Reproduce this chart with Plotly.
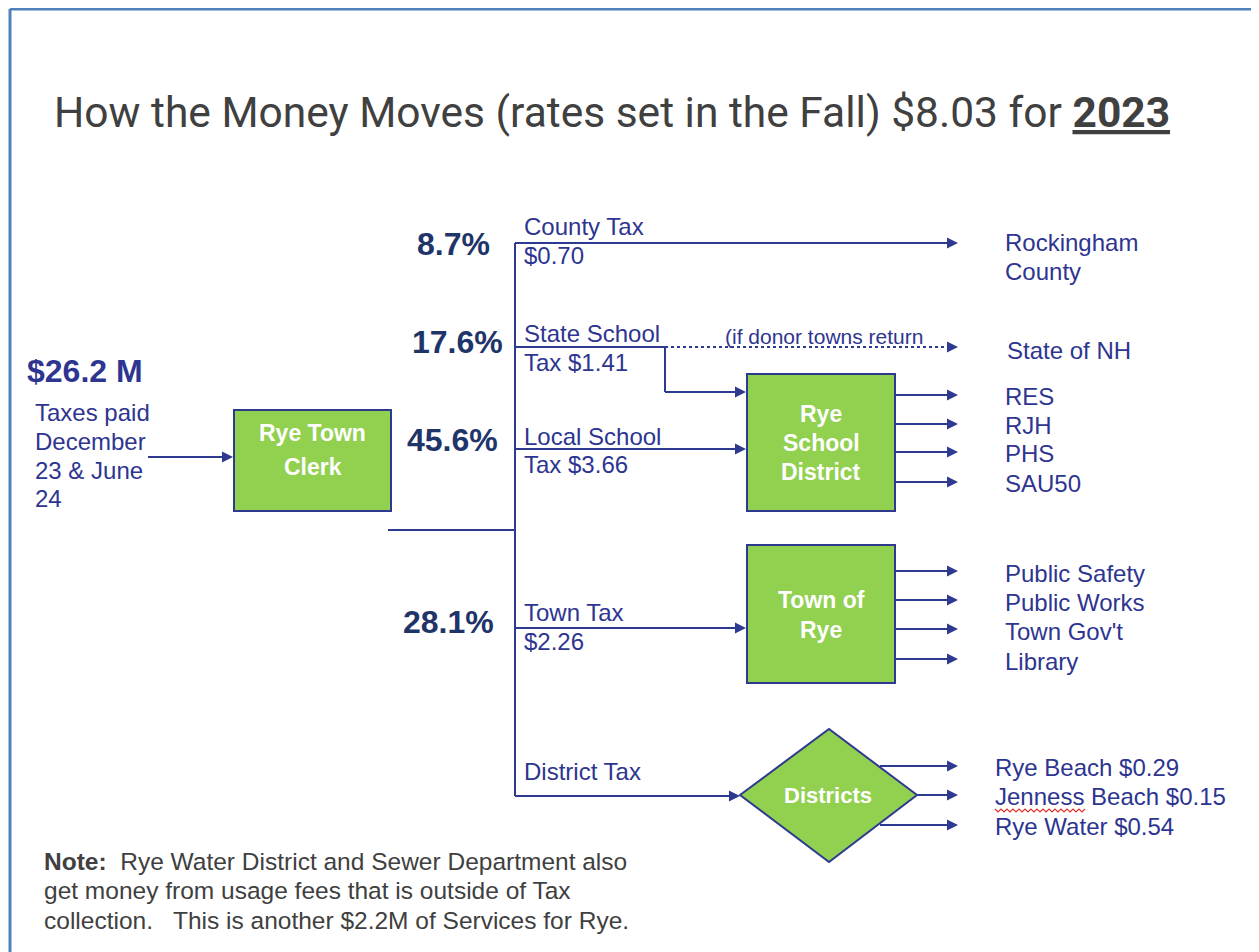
import plotly.graph_objects as go

# ---------------- data ----------------
title_main = "How the Money Moves (rates set in the Fall) $8.03 for "
title_year = "2023"
total_collected = "$26.2 M"
paid_note = ["Taxes paid", "December", "23 & June", "24"]

branch_names = ["County Tax", "State School", "Local School", "Town Tax", "District Tax"]
branch_rates = ["$0.70", "Tax $1.41", "Tax $3.66", "$2.26", ""]
branch_pcts = ["8.7%", "17.6%", "45.6%", "28.1%", ""]

county_dest = ["Rockingham", "County"]
state_dest = "State of NH"
donor_note = "(if donor towns return"

school_box = ["Rye", "School", "District"]
school_outputs = ["RES", "RJH", "PHS", "SAU50"]

town_box = ["Town of", "Rye"]
town_outputs = ["Public Safety", "Public Works", "Town Gov't", "Library"]

district_names = ["Rye Beach", "Jenness Beach", "Rye Water"]
district_rates = [0.29, 0.15, 0.54]

note_lines = ["<b>Note:</b>  Rye Water District and Sewer Department also",
              "get money from usage fees that is outside of Tax",
              "collection.   This is another $2.2M of Services for Rye."]

# ---------------- style ----------------
LINE = "#2e3a8f"
TXT = "#2e3590"
PCT = "#1f3468"
GREEN = "#92d050"
GRAY = "#404040"
FONT = "Liberation Sans, Arial, sans-serif"
LW = 2
LBL = 24

fig = go.Figure()
shapes = []
ann = []


def line(x0, y0, x1, y1, dash="solid", color=LINE, width=LW):
    shapes.append(dict(type="line", xref="x", yref="y", x0=x0, y0=y0, x1=x1, y1=y1,
                       line=dict(color=color, width=width, dash=dash)))


def arrow(x0, y0, x1, y1, dash="solid"):
    line(x0, y0, x1 - 4, y1, dash=dash)
    ann.append(dict(x=x1, y=y1, ax=x1 - 6, ay=y1, xref="x", yref="y", axref="x", ayref="y",
                    text="", showarrow=True, arrowhead=2, arrowsize=1.1, arrowwidth=LW,
                    arrowcolor=LINE, standoff=0))


def text(x, y, s, size=LBL, color=TXT, anchor="left", bold=False, family=FONT):
    if bold:
        s = "<b>" + s + "</b>"
    ann.append(dict(x=x, y=y, xref="x", yref="y", text=s, showarrow=False,
                    xanchor=anchor, yanchor="middle", align=anchor,
                    font=dict(size=size, color=color, family=family)))


def box(x0, y0, x1, y1, lines_, ys):
    shapes.append(dict(type="rect", xref="x", yref="y", x0=x0, y0=y0, x1=x1, y1=y1,
                       fillcolor=GREEN, line=dict(color=LINE, width=LW), layer="below"))
    for s, yy in zip(lines_, ys):
        text((x0 + x1) / 2, yy, s, size=23, color="white", anchor="center", bold=True)


# border
line(10, 9, 1259, 9, color="#4f81bd", width=3)
line(10, 9, 10, 952, color="#4f81bd", width=3)

# title
text(52, 112, title_main + "<b><u>" + title_year + "</u></b>", size=42.5, color=GRAY,
     family="Roboto, Arial, sans-serif")

# left input
text(25, 371, total_collected, size=32, color=TXT, bold=True)
for s, yy in zip(paid_note, [412, 441, 470, 498]):
    text(33, yy, s)
arrow(148, 457, 233, 457)

# clerk
box(234, 410, 391, 511, ["Rye Town", "Clerk"], [433, 467])
line(388, 530, 515, 530)

# trunk
trunk_x = 515
branch_y = [243, 347, 449, 628, 796]
line(trunk_x, branch_y[0], trunk_x, branch_y[-1])

# percentages
for p, (xc, yc) in zip(branch_pcts[:4], [(453, 244), (457, 342), (452, 440), (448, 622)]):
    text(xc, yc, p, size=32, color=PCT, anchor="center", bold=True)

# branch labels
label_above = [226, 333, 436, 612, 771]
label_below = [255, 362, 464, 641, None]
for name, rate, ya, yb in zip(branch_names, branch_rates, label_above, label_below):
    text(522, ya, name)
    if yb is not None and rate:
        text(522, yb, rate)

# county
arrow(trunk_x, branch_y[0], 958, branch_y[0])
text(1003, 242, county_dest[0])
text(1003, 271, county_dest[1])

# state school
elbow_x = 665
line(trunk_x, branch_y[1], elbow_x, branch_y[1])
arrow(elbow_x, branch_y[1], 958, branch_y[1], dash="dot")
text(723, 336, donor_note, size=21)
text(1005, 350, state_dest)
line(elbow_x, branch_y[1], elbow_x, 392)
arrow(elbow_x, 392, 746, 392)

# local school
arrow(trunk_x, branch_y[2], 746, branch_y[2])
box(747, 374, 895, 511, school_box, [414, 443, 472])
for s, yy in zip(school_outputs, [395, 424, 452, 482]):
    arrow(895, yy, 958, yy)
    text(1003, yy + 1, s)

# town
arrow(trunk_x, branch_y[3], 746, branch_y[3])
box(747, 545, 895, 683, town_box, [600, 630])
for s, yy in zip(town_outputs, [571, 600, 629, 659]):
    arrow(895, yy, 958, yy)
    text(1003, yy + 2, s)

# districts
arrow(trunk_x, branch_y[4], 740, branch_y[4])
shapes.append(dict(type="path", xref="x", yref="y",
                   path="M 740 795 L 829 729 L 917 795 L 829 862 Z",
                   fillcolor=GREEN, line=dict(color=LINE, width=LW), layer="below"))
text(828, 795, "Districts", size=22, color="white", anchor="center", bold=True)
for nm, rt, (xs, yy) in zip(district_names, district_rates, [(880, 766), (917, 795), (880, 825)]):
    arrow(xs, yy, 958, yy)
    text(993, yy + 1, f"{nm} ${rt:.2f}")
# spell-check squiggle under "Jenness"
zz = "M 995 809 " + " ".join(f"L {995 + 3 * i} {809 + (3 if i % 2 else 0)}" for i in range(1, 31))
shapes.append(dict(type="path", xref="x", yref="y", path=zz,
                   line=dict(color="#e03030", width=1.2)))

# note
for s, yy in zip(note_lines, [861, 890, 920]):
    text(42, yy, s, size=24.5, color=GRAY)

# page body has an 8px margin: size the figure so data units equal window pixels
fig.update_layout(
    width=1251, height=944,
    margin=dict(l=0, r=0, t=0, b=0),
    paper_bgcolor="white", plot_bgcolor="white",
    xaxis=dict(range=[8, 1259], visible=False, fixedrange=True),
    yaxis=dict(range=[952, 8], visible=False, fixedrange=True),
    shapes=shapes, annotations=ann, showlegend=False,
)

fig.write_html("out.html")
